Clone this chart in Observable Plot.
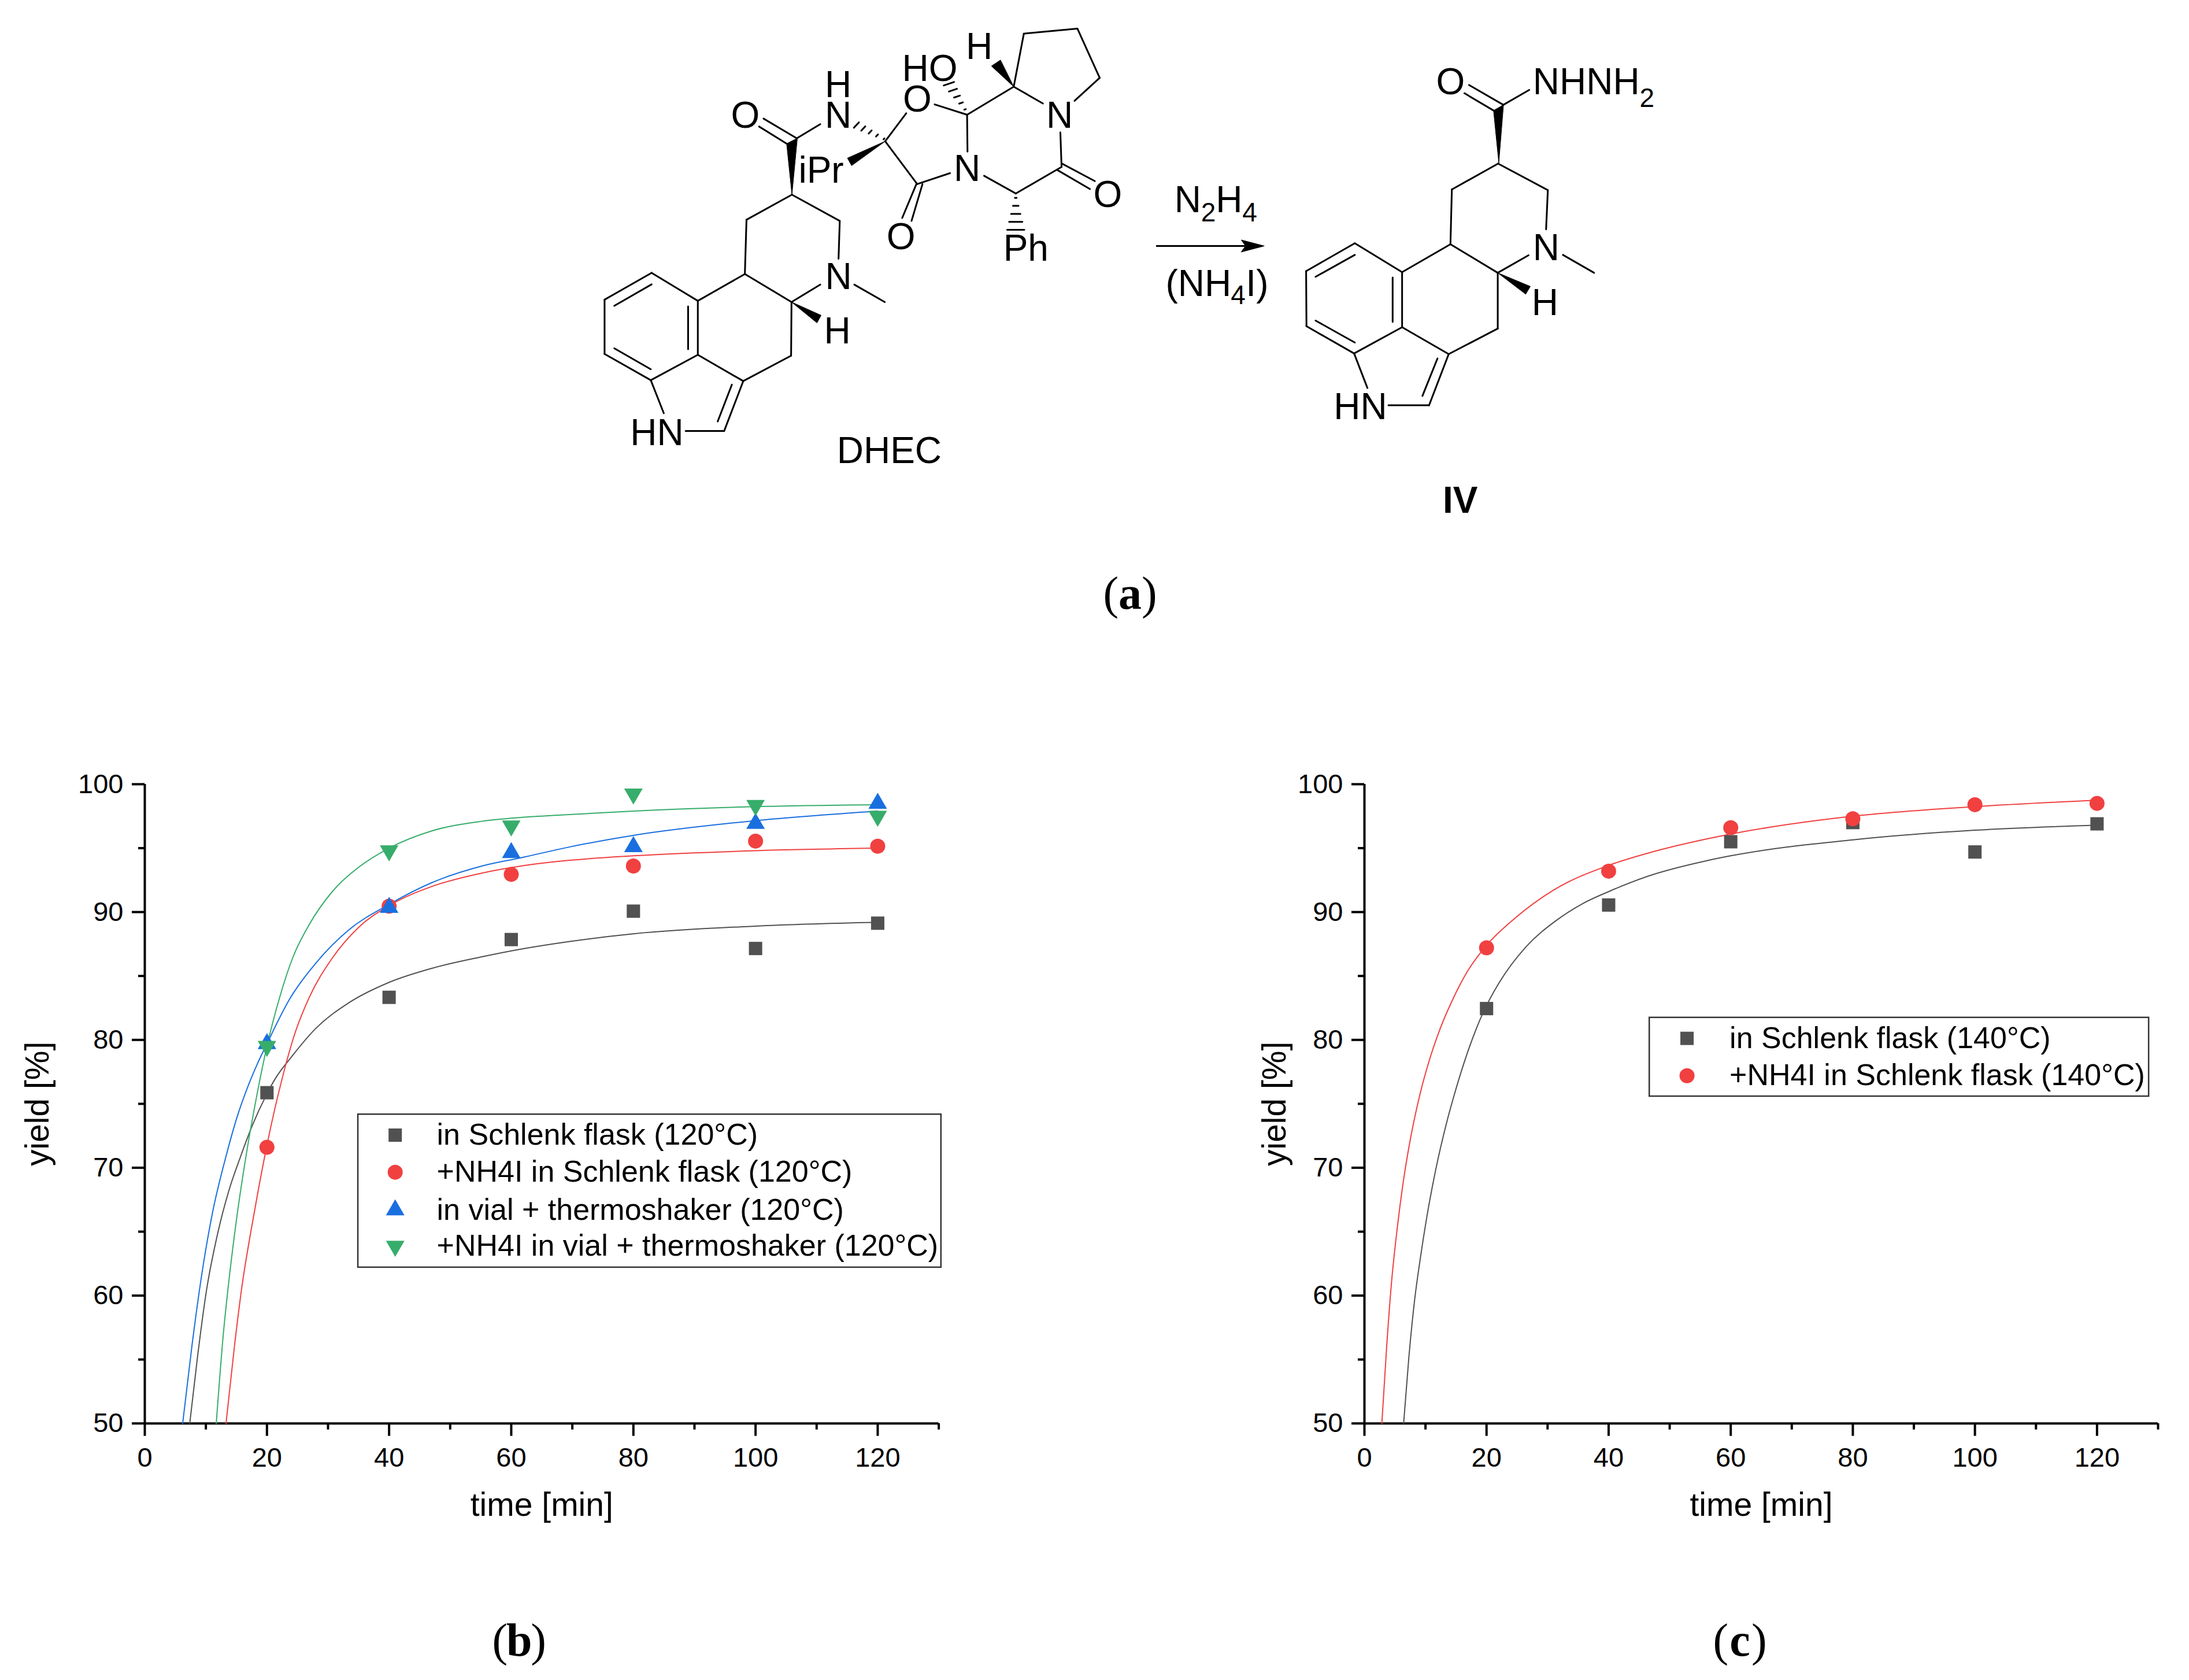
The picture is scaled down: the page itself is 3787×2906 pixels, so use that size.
<!DOCTYPE html>
<html>
<head>
<meta charset="utf-8">
<script src="https://cdn.jsdelivr.net/npm/d3@7"></script>
<script src="https://cdn.jsdelivr.net/npm/@observablehq/plot@0.6"></script>
<style>
html,body{margin:0;padding:0;background:#fff}
#page{position:relative;width:3787px;height:2906px;background:#fff;overflow:hidden}
#page svg{position:absolute;max-width:none;background:transparent}
</style>
</head>
<body>
<div id="page"></div>
<script>
// ---------- measured data, chart (b) ----------
const times = [20, 40, 60, 80, 100, 120];
const schlenk120 = [75.87, 83.33, 87.85, 90.07, 87.15, 89.13];
const nh4iSchlenk120 = [71.6, 90.46, 92.95, 93.6, 95.55, 95.15];
const vial120 = [79.7, 90.36, 94.64, 95.1, 96.93, 98.5];
const nh4iVial120 = [79.5, 94.8, 96.74, 99.24, 98.35, 97.5];

const fitSchlenk120 = [[7.36,50],[8.63,55.2],[10.1,60.4],[11.95,64.9],[13.76,68.2],[15.7,70.9],[17.6,73.3],[19.8,75.6],[21.4,77],[23.9,78.6],[28,80.9],[33.4,82.9],[40,84.5],[47,85.6],[55.2,86.5],[61.6,87.1],[69.6,87.7],[80,88.3],[100,88.9],[120,89.2]];
const fitNh4iSchlenk120 = [[13.3,50],[14.67,56],[15.9,60.7],[17.4,65.1],[18.6,68.3],[20.1,72],[22.5,77],[24.5,80.4],[26.9,83.3],[30.7,86.4],[35,88.8],[40,90.5],[47,92],[55.2,93.05],[61.6,93.6],[69.6,94.05],[80,94.4],[100,94.8],[120,95]];
const fitVial120 = [[6.2,50],[7.7,56],[9.54,62.3],[11.05,66.4],[13.3,70.9],[15,73.8],[17,76.5],[18.5,78.2],[20,79.7],[23.6,83.1],[28,86],[33.4,88.6],[40,90.6],[47,92.3],[55.2,93.6],[61.6,94.25],[69.6,95.1],[80,96],[100,97.15],[120,97.9]];
const fitNh4iVial120 = [[11.7,50],[12.86,57],[13.9,61.7],[15,65.9],[16.6,71],[18.4,75.8],[20,79.5],[22.5,84],[24.2,86.4],[26.9,89],[30.7,91.6],[35,93.5],[40,95],[47,96.35],[55.2,97.1],[61.6,97.4],[68.6,97.6],[80,97.9],[100,98.25],[120,98.4]];

// ---------- measured data, chart (c) ----------
const schlenk140 = [82.45, 90.55, 95.5, 97.0, 94.7, 96.9];
const nh4iSchlenk140 = [87.2, 93.2, 96.6, 97.3, 98.4, 98.5];
const fitSchlenk140 = [[6.42,50],[7.28,55.2],[8.23,59.7],[9.18,63],[10.13,65.9],[11.7,69.9],[13.45,73.5],[14.65,75.6],[16.8,78.9],[19.5,82.2],[22.1,84.5],[26.5,87.3],[31.3,89.3],[35.7,90.65],[40,91.6],[46.4,92.8],[55.9,94],[60,94.4],[80,95.65],[100,96.4],[120,96.8]];
const fitNh4iSchlenk140 = [[2.85,50],[3.64,56],[4.43,61],[5.38,65.3],[6.33,68.8],[7.28,71.6],[9.1,75.75],[10.5,78.2],[12.5,81],[14.4,83.1],[16.8,85.3],[20,87.4],[24.6,89.5],[30.9,91.7],[40,93.65],[46.4,94.6],[55.9,95.7],[60,96.1],[80,97.5],[100,98.25],[120,98.75]];

// ---------- axis ticks and texts ----------
const xMajor = [0, 20, 40, 60, 80, 100, 120];
const xMinor = [10, 30, 50, 70, 90, 110, 130];
const yMajor = [50, 60, 70, 80, 90, 100];
const yMinor = [55, 65, 75, 85, 95];
const xTitle = "time [min]";
const yTitle = "yield [%]";
const legendB = ["in Schlenk flask (120°C)", "+NH4I in Schlenk flask (120°C)", "in vial + thermoshaker (120°C)", "+NH4I in vial + thermoshaker (120°C)"];
const legendC = ["in Schlenk flask (140°C)", "+NH4I in Schlenk flask (140°C)"];

// ---------- structures: DHEC (bonds as x1,y1,x2,y2 in structure units) ----------
const dhecBonds = [
 [252,826,136,917],[160,938,252,865],[136,917,136,1101],[136,1101,250,1190],[160,1082,250,1153],
 [250,1190,366,1104],[366,1104,366,921],[342,1085,342,940],[366,921,252,826],
 [366,921,482,830],[482,830,486,646],[486,646,598,561],[598,561,716,650],[716,650,713,778],
 [668,866,597,925],[482,830,597,925],[597,925,596,1107],[596,1107,478,1193],[478,1193,366,1104],
 [478,1193,431,1362],[450,1205,415,1330],[431,1362,336,1362],[250,1190,282,1302],[752,866,827,925],
 [610,370,528,303],[585,388,517,330],[610,370,668,322],
 [828,380,880,285],[950,255,1030,290],[1030,290,1031,415],[828,380,907,525],[907,525,988,488],
 [920,525,893,650],[905,525,870,640],[1072,497,1150,557],[1150,557,1263,467],[1263,467,1260,350],
 [1263,455,1345,515],[1252,477,1333,542],[1030,290,1145,195],[1145,195,1217,252],[1295,243,1357,165],
 [1357,165,1302,-2],[1302,-2,1170,15],[1170,15,1145,195]
];
const dhecWedges = [
 [[597,925],[670,970],[660,995]],
 [[598,561],[585,388],[611,370]],
 [[828,380],[735,437],[745,462]],
 [[1145,195],[1090,125],[1112,105]]
];
const dhecHashes = [
 [[825,372],[757,325],11],
 [[1025,272],[985,185],14],
 [[1150,572],[1150,680],21]
];
const dhecAtoms = [
 ["N",713,840],["H",710,1025],["HN",265,1370],["O",483,295],["N",712,295],["H",712,190],
 ["iPr",670,480],["O",907,240],["HO",938,135],["H",1060,60],["N",1258,295],["N",1030,475],
 ["O",867,705],["O",1377,563],["Ph",1175,745],["DHEC",838,1430]
];

// ---------- structures: IV ----------
const ivBonds = [
 [484,645,345,729],[372,746,484,680],[345,729,346,895],[346,895,482,977],[372,878,484,944],
 [482,977,619,898],[619,898,619,732],[592,882,592,748],[619,732,484,645],
 [619,732,757,648],[757,648,761,483],[761,483,893,405],[893,405,1035,485],[1035,485,1030,603],
 [980,681,892,734],[757,648,892,734],[892,734,892,902],[892,902,752,979],[752,979,619,898],
 [752,979,696,1133],[720,992,677,1105],[696,1133,580,1133],[482,977,520,1081],[1078,680,1167,734],
 [908,228,810,168],[880,245,797,193],[908,228,982,183]
];
const ivWedges = [
 [[892,734],[985,775],[972,798]],
 [[895,403],[880,245],[908,228]]
];
const ivAtoms = [["N",1030,660],["H",1027,825],["HN",500,1140],["O",757,160]];
const ivStartLabels = [["NHNH",992,161,64],["2",1297,208,46]];
const reagents = [["N",-31,516,64],["2",45,553,46],["H",87,516,64],["4",163,553,46],
                  ["(NH",-56,768,64],["4",130,803,46],["I)",173,768,64]];
const arrowLine = [[-82.5,653,195,653]];
const arrowHead = [[225,653],[160,635],[172,653],[160,671]];

// ---------- colours ----------
const black = "#515151", red = "#F14040", blue = "#1A6FDF", green = "#37AD6B";
const sans = "Liberation Sans", serif = "Liberation Serif";

// inverted triangle symbol
const triangleDown = {draw(ctx, size){
  const y = Math.sqrt(size / (Math.sqrt(3) * 3)), s = Math.sqrt(3) * y;
  ctx.moveTo(0, 2 * y); ctx.lineTo(-s, -y); ctx.lineTo(s, -y); ctx.closePath();
}};

const page = document.getElementById("page");
function place(svg, left, top){ svg.style.left = left + "px"; svg.style.top = top + "px"; page.appendChild(svg); }

// ---------- structure helpers ----------
const bondMark = b => Plot.link(b, {x1:d=>d[0], y1:d=>d[1], x2:d=>d[2], y2:d=>d[3], stroke:"black", strokeWidth:3, strokeLinecap:"round"});
const wedgeMarks = w => w.map(tri => Plot.line(tri, {x:d=>d[0], y:d=>d[1], fill:"black", stroke:"black", strokeWidth:1, curve:"linear-closed"}));
const atomMark = a => Plot.text(a, {x:d=>d[1], y:d=>d[2], text:d=>d[0], fontSize:64, fontFamily:sans, fill:"black", textAnchor:"middle", lineAnchor:"middle"});
const startMark = a => Plot.text(a, {x:d=>d[1], y:d=>d[2], text:d=>d[0], fontSize:d=>d[3], fontFamily:sans, fill:"black", textAnchor:"start", lineAnchor:"middle"});
function hashSegments(h){
  const [[ax,ay],[bx,by],w] = h, n = 5, out = [];
  const dx = bx-ax, dy = by-ay, L = Math.hypot(dx,dy), px = -dy/L, py = dx/L;
  for(let i=0;i<n;i++){
    const t = i/(n-1), cx = ax+dx*t, cy = ay+dy*t, hw = 2+(w-2)*t;
    out.push([cx-px*hw, cy-py*hw, cx+px*hw, cy+py*hw]);
  }
  return out;
}
const captionMarks = (word, xc, yc, gap, fs) => [
  Plot.text(["("], {x:()=>xc, y:()=>yc, text:d=>d, dx:-gap, fontSize:fs, fontFamily:serif, fill:"black", textAnchor:"end", lineAnchor:"middle"}),
  Plot.text([word], {x:()=>xc, y:()=>yc, text:d=>d, fontSize:fs, fontWeight:"bold", fontFamily:serif, fill:"black", textAnchor:"middle", lineAnchor:"middle"}),
  Plot.text([")"], {x:()=>xc, y:()=>yc, text:d=>d, dx:gap, fontSize:fs, fontFamily:serif, fill:"black", textAnchor:"start", lineAnchor:"middle"})
];

// ---------- DHEC + (a) ----------
place(Plot.plot({
  width:2030, height:1100, margin:0,
  x:{type:"linear", domain:[-1354.2,1539.5], range:[0,2030], axis:null},
  y:{type:"linear", domain:[-98,2058], range:[0,1100], axis:null},
  marks:[
    bondMark(dhecBonds),
    ...wedgeMarks(dhecWedges),
    bondMark(dhecHashes.flatMap(hashSegments)),
    atomMark(dhecAtoms),
    ...captionMarks("a", 1432, 1915, 20, 80)
  ]
}), 0, 0);

// ---------- arrow, reagents, IV ----------
place(Plot.plot({
  width:1787, height:1100, margin:0,
  x:{type:"linear", domain:[-82.5,2866], range:[0,1787], axis:null},
  y:{type:"linear", domain:[-87.1,1829], range:[0,1100], axis:null},
  marks:[
    bondMark(ivBonds),
    ...wedgeMarks(ivWedges),
    bondMark(arrowLine),
    Plot.line(arrowHead, {x:d=>d[0], y:d=>d[1], fill:"black", stroke:"black", strokeWidth:1, curve:"linear-closed"}),
    atomMark(ivAtoms),
    startMark(ivStartLabels),
    startMark(reagents),
    Plot.text(["IV"], {x:()=>785, y:()=>1421, text:d=>d, fontSize:64, fontWeight:"bold", fontFamily:sans, fill:"black", textAnchor:"middle", lineAnchor:"middle"})
  ]
}), 2000, 0);

// ---------- chart helper ----------
function chart({width, marginLeft, marginRight, titleOffset, series, legend, box, caption}){
  const marks = [
    Plot.ruleX([0], {stroke:"black", strokeWidth:4}),
    Plot.ruleY([50], {stroke:"black", strokeWidth:4}),
    Plot.axisX({ticks:xMajor, tickSize:22, tickPadding:19, strokeWidth:4, fontSize:47, fontFamily:sans, color:"black", label:null}),
    Plot.axisX({ticks:xMinor, tickSize:11, strokeWidth:4, text:null, color:"black", label:null}),
    Plot.axisY({ticks:yMajor, tickSize:22, tickPadding:15, strokeWidth:4, fontSize:47, fontFamily:sans, color:"black", label:null}),
    Plot.axisY({ticks:yMinor, tickSize:11, strokeWidth:4, text:null, color:"black", label:null}),
    Plot.text([xTitle], {frameAnchor:"bottom", dy:142, text:d=>d, fontSize:57, fontFamily:sans, fill:"black", textAnchor:"middle", lineAnchor:"middle"}),
    Plot.text([yTitle], {frameAnchor:"left", dx:-titleOffset, rotate:-90, text:d=>d, fontSize:57, fontFamily:sans, fill:"black", textAnchor:"middle", lineAnchor:"middle"}),
    Plot.rect([box], {x1:"x1", x2:"x2", y1:"y1", y2:"y2", fill:"white", stroke:"#333333", strokeWidth:2.5})
  ];
  series.forEach(s => {
    marks.push(Plot.line(s.fit, {x:d=>d[0], y:d=>d[1], stroke:s.color, strokeWidth:2, curve:"monotone-x"}));
  });
  series.forEach(s => {
    marks.push(Plot.dot(times.map((t,i)=>[t,s.values[i]]), {x:d=>d[0], y:d=>d[1], symbol:s.symbol, r:s.r, fill:s.color, stroke:"none"}));
  });
  series.forEach((s,i) => {
    marks.push(Plot.dot([[legend.marker, legend.rows[i]]], {x:d=>d[0], y:d=>d[1], symbol:s.symbol, r:s.r, fill:s.color, stroke:"none"}));
  });
  marks.push(Plot.text(legend.labels.map((l,i)=>[l, legend.rows[i]]), {x:()=>legend.textX, y:d=>d[1], text:d=>d[0], fontSize:52, fontFamily:sans, fill:"black", textAnchor:"start", lineAnchor:"middle"}));
  marks.push(...captionMarks(caption[0], caption[1], 33, 20, 80));
  return Plot.plot({
    width, height:1606, marginTop:56, marginBottom:444.3, marginLeft, marginRight,
    x:{type:"linear", domain:[0,130], axis:null},
    y:{type:"linear", domain:[50,100], axis:null},
    style:{fontFamily:sans},
    marks
  });
}

// ---------- chart (b) ----------
place(chart({
  width:1700, marginLeft:250, marginRight:76.4, titleOffset:185,
  series:[
    {values:schlenk120, fit:fitSchlenk120, color:black, symbol:"square", r:13},
    {values:nh4iSchlenk120, fit:fitNh4iSchlenk120, color:red, symbol:"circle", r:13},
    {values:vial120, fit:fitVial120, color:blue, symbol:"triangle", r:11.9},
    {values:nh4iVial120, fit:fitNh4iVial120, color:green, symbol:triangleDown, r:11.9}
  ],
  legend:{marker:41, textX:47.8, rows:[72.55,69.65,66.7,63.87], labels:legendB},
  box:{x1:34.93, x2:130.4, y1:74.17, y2:62.2},
  caption:["b",61.3]
}), 0, 1300);

// ---------- chart (c) ----------
place(chart({
  width:1787, marginLeft:360, marginRight:54, titleOffset:155,
  series:[
    {values:schlenk140, fit:fitSchlenk140, color:black, symbol:"square", r:13},
    {values:nh4iSchlenk140, fit:fitNh4iSchlenk140, color:red, symbol:"circle", r:13}
  ],
  legend:{marker:52.84, textX:59.8, rows:[80.12,77.2], labels:legendC},
  box:{x1:46.7, x2:128.5, y1:81.74, y2:75.58},
  caption:["c",61.5]
}), 2000, 1300);
</script>
</body>
</html>
